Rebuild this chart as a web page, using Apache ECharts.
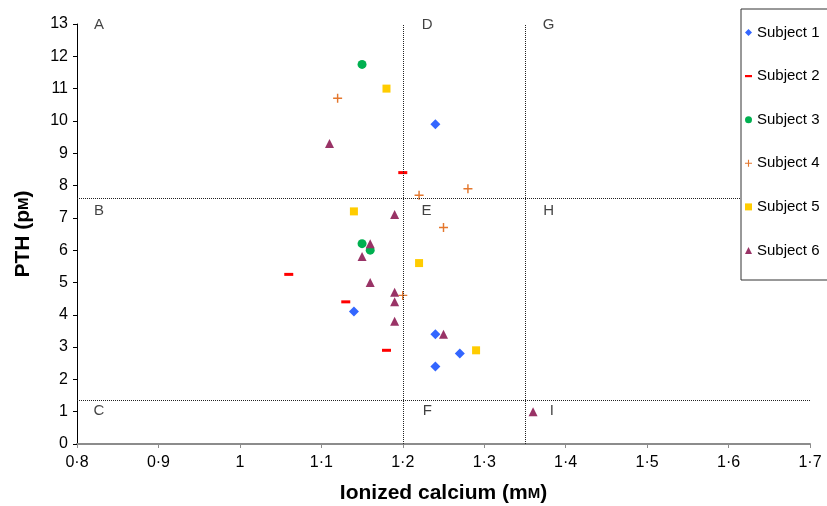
<!DOCTYPE html>
<html>
<head>
<meta charset="utf-8">
<title>PTH vs ionized calcium</title>
<script src="https://cdn.jsdelivr.net/npm/echarts@6/dist/echarts.min.js"></script>
<style>
	html, body { margin: 0; padding: 0; background: #fff; }
	#main { width: 827px; height: 506px; }
</style>
</head>
<body>
<div id="main"></div>
<script>
// 数据：[离子钙 mM, PTH pM]
var subject1 = [[1.24, 9.9], [1.14, 4.1], [1.24, 3.4], [1.27, 2.8], [1.24, 2.4]];
var subject2 = [[1.20, 8.4], [1.06, 5.25], [1.13, 4.4], [1.18, 2.9]];
var subject3 = [[1.15, 11.75], [1.15, 6.2], [1.16, 6.0]];
var subject4 = [[1.12, 10.7], [1.28, 7.9], [1.22, 7.7], [1.25, 6.7], [1.20, 4.6]];
var subject5 = [[1.18, 11.0], [1.14, 7.2], [1.22, 5.6], [1.29, 2.9]];
var subject6 = [[1.11, 9.3], [1.19, 7.1], [1.16, 6.2], [1.15, 5.8], [1.16, 5.0],
	[1.19, 4.7], [1.19, 4.4], [1.19, 3.8], [1.25, 3.4], [1.36, 1.0]];

var subjectNames = ['Subject 1', 'Subject 2', 'Subject 3', 'Subject 4', 'Subject 5', 'Subject 6'];

// 分区虚线
var calciumCuts = [1.2, 1.35];
var pthCuts = [7.6, 1.35];

// 区域字母
var regionLabels = [
	[0.827, 12.97, 'A'], [1.23, 12.97, 'D'], [1.379, 12.97, 'G'],
	[0.827, 7.21, 'B'], [1.229, 7.21, 'E'], [1.379, 7.21, 'H'],
	[0.827, 1.02, 'C'], [1.23, 1.02, 'F'], [1.383, 1.02, 'I']
];

var plusPath = 'path://M4.2,0H5.8V10H4.2ZM0,4.2H10V5.8H0Z';
var dashPath = 'path://M0,0H10V3H0Z';

var font = 'Liberation Sans, Arial, sans-serif';

function fmt(v) {
	return String(+v.toFixed(1)).replace('.', '·');
}

var myChart = echarts.init(document.getElementById('main'));

var titleStyle = {
	fontSize: 21, fontWeight: 'bold', color: '#000', fontFamily: font,
	rich: { sc: { fontSize: 15, fontWeight: 'bold', color: '#000', fontFamily: font } }
};

var option = {
	backgroundColor: '#fff',
	animation: false,
	grid: { left: 77, right: 17, top: 24, bottom: 62, outerBoundsMode: 'none' },
	legend: {
		orient: 'vertical',
		left: 741,
		top: 9,
		z: 10,
		padding: [16, 30, 22, 4],
		borderColor: '#333',
		borderWidth: 1,
		backgroundColor: '#fff',
		itemWidth: 7,
		itemHeight: 7,
		itemGap: 28.6,
		selectedMode: false,
		textStyle: { fontSize: 15, color: '#000', fontFamily: font, lineHeight: 15 },
		data: [
			{ name: 'Subject 1', icon: 'diamond' },
			{ name: 'Subject 2', icon: 'path://M0,0H8V2.5H0Z' },
			{ name: 'Subject 3', icon: 'circle' },
			{ name: 'Subject 4', icon: plusPath },
			{ name: 'Subject 5', icon: 'rect' },
			{ name: 'Subject 6', icon: 'triangle' }
		]
	},
	xAxis: {
		type: 'value',
		min: 0.8,
		max: 1.7,
		interval: 0.1,
		name: 'Ionized calcium (m{sc|M})',
		nameLocation: 'middle',
		nameGap: 39,
		nameTextStyle: titleStyle,
		axisLine: { lineStyle: { color: '#8c8c8c', width: 2 } },
		axisTick: { length: 4, lineStyle: { color: '#8c8c8c' } },
		axisLabel: { fontSize: 16, color: '#000', fontFamily: font, margin: 11, formatter: fmt },
		splitLine: { show: false }
	},
	yAxis: {
		type: 'value',
		min: 0,
		max: 13,
		interval: 1,
		name: 'PTH (p{sc|M})',
		nameLocation: 'middle',
		nameGap: 43,
		nameTextStyle: titleStyle,
		axisLine: { lineStyle: { color: '#000', width: 1 } },
		axisTick: { length: 4, lineStyle: { color: '#000' } },
		axisLabel: { fontSize: 16, color: '#000', fontFamily: font, margin: 9 },
		splitLine: { show: false }
	},
	series: [
		{
			name: 'zones',
			type: 'scatter',
			data: regionLabels.map(function (r) { return { value: [r[0], r[1]], name: r[2] }; }),
			symbolSize: 0,
			silent: true,
			label: {
				show: true, position: 'inside', formatter: '{b}',
				fontSize: 15, color: '#111', fontFamily: font
			},
			markLine: {
				silent: true,
				symbol: 'none',
				label: { show: false },
				lineStyle: { type: 'dotted', color: '#222', width: 1 },
				data: calciumCuts.map(function (c) { return { xAxis: c }; })
					.concat(pthCuts.map(function (p) { return { yAxis: p }; }))
			}
		},
		{ name: subjectNames[0], type: 'scatter', data: subject1, symbol: 'diamond', symbolSize: 10,
			itemStyle: { color: '#3366ff', opacity: 1 } },
		{ name: subjectNames[1], type: 'scatter', data: subject2, symbol: dashPath, symbolSize: [9, 3],
			itemStyle: { color: '#ff0000', opacity: 1 } },
		{ name: subjectNames[2], type: 'scatter', data: subject3, symbol: 'circle', symbolSize: 9,
			itemStyle: { color: '#00b050', opacity: 1 } },
		{ name: subjectNames[3], type: 'scatter', data: subject4, symbol: plusPath, symbolSize: 9,
			itemStyle: { color: '#e4772d', opacity: 1 } },
		{ name: subjectNames[4], type: 'scatter', data: subject5, symbol: 'rect', symbolSize: 8,
			itemStyle: { color: '#ffcc00', opacity: 1 } },
		{ name: subjectNames[5], type: 'scatter', data: subject6, symbol: 'triangle', symbolSize: 9,
			itemStyle: { color: '#993366', opacity: 1 } }
	]
};

myChart.setOption(option);
</script>
</body>
</html>
